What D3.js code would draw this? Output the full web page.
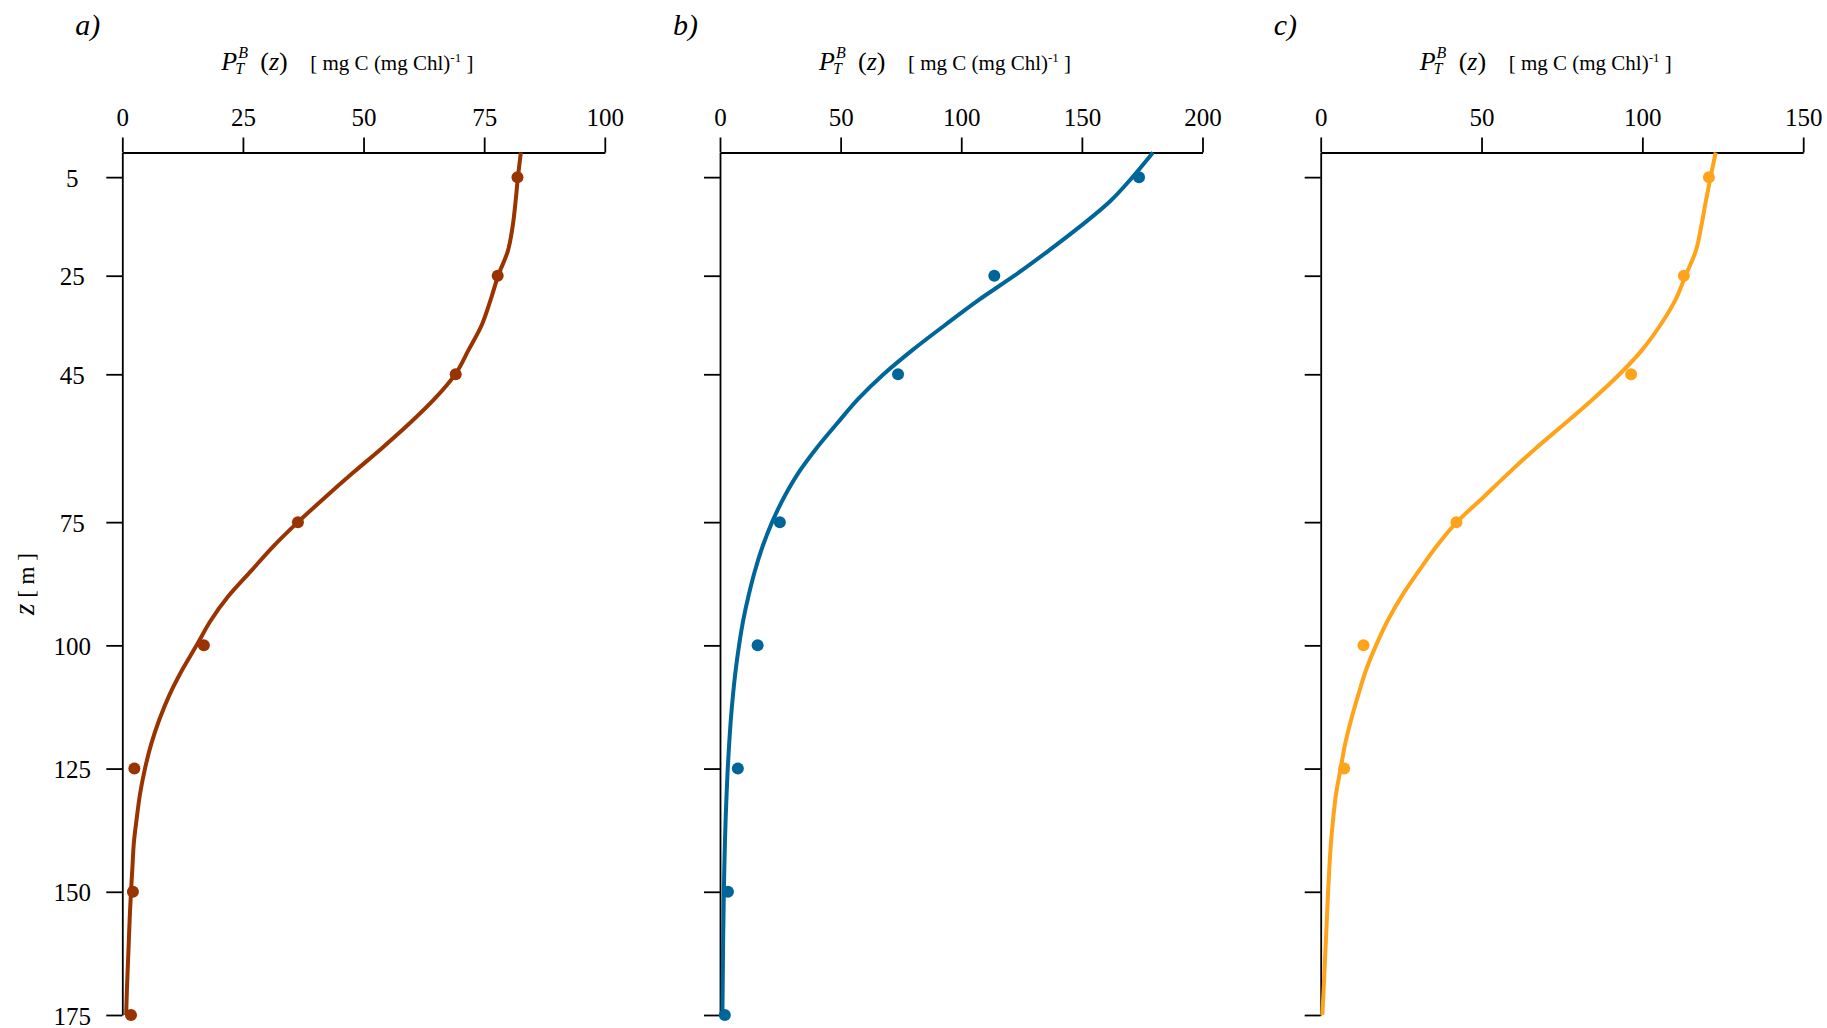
<!DOCTYPE html>
<html><head><meta charset="utf-8">
<script src="https://cdn.jsdelivr.net/npm/d3@7"></script>
<style>
body{margin:0;background:#fff}
svg text{font-family:"Liberation Serif","Times New Roman",serif !important;fill:#000}
</style>
</head><body>
<svg id="chart" width="1827" height="1028"></svg>
<script>
// ---------- data ----------
const panelLetters = ["a)", "b)", "c)"];
const depthTicks = [5, 25, 45, 75, 100, 125, 150, 175];
const xTicksA = [0, 25, 50, 75, 100];
const xTicksB = [0, 50, 100, 150, 200];
const xTicksC = [0, 50, 100, 150];
const xMaxA = 100, xMaxB = 200, xMaxC = 150;

const obsDepthsA = [5, 25, 45, 75, 100, 125, 150, 175];
const obsA = [81.9, 77.8, 69.1, 36.4, 16.9, 2.5, 2.2, 1.8];
const obsDepthsB = [5, 25, 45, 75, 100, 125, 150, 175];
const obsB = [173.7, 113.7, 73.8, 24.8, 15.6, 7.4, 3.3, 2.0];
const obsDepthsC = [5, 25, 45, 75, 100, 125];
const obsC = [120.7, 112.9, 96.5, 42.2, 13.3, 7.3];

const modelDepths = [0,5,10,15,20,25,30,35,40,45,50,55,60,65,70,75,80,85,90,95,100,105,110,115,120,125,130,135,140,145,150,155,160,165,170,175];
const modelA = [82.6,82.0,81.5,80.9,79.9,77.9,76.3,74.5,71.8,69.0,64.7,59.5,53.8,47.8,42.0,36.4,31.2,26.6,22.0,18.3,15.4,12.4,9.8,7.7,6.0,4.7,3.7,3.0,2.4,2.1,1.8,1.55,1.35,1.15,0.95,0.8];
const modelB = [179.5,171,161.5,149.3,136,122,107,93.3,80,67.8,57.3,48.5,40,32.5,26.5,21.6,17.6,14.4,11.8,9.6,7.9,6.5,5.4,4.5,3.8,3.2,2.75,2.35,2.05,1.8,1.6,1.45,1.3,1.2,1.1,1.0];
const modelC = [122.8,121.2,119.7,118.3,116.6,113.4,110.2,105.6,100,92.9,84.7,75.9,66.9,58.5,50.5,42.3,35.9,30.4,25.2,20.8,17.2,14.1,11.7,9.5,7.6,6.2,4.8,3.9,3.2,2.7,2.3,1.95,1.6,1.25,0.9,0.5];

const colors = ["#993300", "#006699", "#FFA31A"];

// ---------- layout ----------
const FONT = '"Liberation Serif","Times New Roman",serif';
const svg = d3.select("#chart");
const panelLeft = [122.3, 720, 1320.7];
const panelW = 482.5;
const yTop = 152.5, yBottom = 1015;

const y = d3.scaleLinear().domain([0, 175]).range([yTop, yBottom]);

const panels = [
  {ticks: xTicksA, max: xMaxA, od: obsDepthsA, ov: obsA, mv: modelA},
  {ticks: xTicksB, max: xMaxB, od: obsDepthsB, ov: obsB, mv: modelB},
  {ticks: xTicksC, max: xMaxC, od: obsDepthsC, ov: obsC, mv: modelC}
];

panels.forEach((p, i) => {
  const x0 = panelLeft[i];
  const x = d3.scaleLinear().domain([0, p.max]).range([x0, x0 + panelW]);
  const g = svg.append("g");

  // top axis
  const ax = g.append("g").attr("transform", `translate(0,${yTop})`)
    .call(d3.axisTop(x).tickValues(p.ticks).tickSize(15).tickSizeOuter(0).tickPadding(12).tickFormat(d3.format("d")));
  ax.attr("font-family", null).attr("font-size", null);
  ax.selectAll("path,line").attr("stroke", "#000").attr("stroke-width", 1.8);
  ax.selectAll("text").style("font-family", FONT).style("font-size", "25px").attr("fill", "#000");

  // left axis
  const ay = g.append("g").attr("transform", `translate(${x0},0)`)
    .call(d3.axisLeft(y).tickValues(depthTicks).tickSize(16).tickSizeOuter(0)
      .tickFormat(i === 0 ? d3.format("d") : () => ""));
  ay.attr("font-family", null).attr("font-size", null);
  ay.selectAll("path,line").attr("stroke", "#000").attr("stroke-width", 1.8);
  ay.selectAll("text").style("font-family", FONT).style("font-size", "25px").attr("fill", "#000")
    .attr("text-anchor", "middle").attr("x", -50).attr("dy", "0.36em");

  // model curve
  const line = d3.line()
    .x((d, k) => x(p.mv[k]))
    .y(d => y(d))
    .curve(d3.curveMonotoneY);
  g.append("path").datum(modelDepths)
    .attr("d", line)
    .attr("fill", "none")
    .attr("stroke", colors[i])
    .attr("stroke-width", 4)
    .attr("stroke-linejoin", "round");

  // observations
  g.selectAll("circle.obs").data(p.od).enter().append("circle")
    .attr("class", "obs")
    .attr("cx", (d, k) => x(p.ov[k]))
    .attr("cy", d => y(d))
    .attr("r", 6)
    .attr("fill", colors[i]);

  // panel letter
  g.append("text").attr("x", x0 - 47).attr("y", 35)
    .style("font-size", "30px").attr("font-style", "italic").text(panelLetters[i]);

  // axis title
  const tx = x0 + 99, ty = 70;
  const P = g.append("text").attr("x", tx).attr("y", ty)
    .style("font-size", "26px").attr("font-style", "italic").text("P");
  const wP = P.node().getComputedTextLength();
  g.append("text").attr("x", tx + wP + 1).attr("y", ty - 12)
    .style("font-size", "16px").attr("font-style", "italic").text("B");
  g.append("text").attr("x", tx + wP - 2).attr("y", ty + 4)
    .style("font-size", "16px").attr("font-style", "italic").text("T");
  const zt = g.append("text").attr("x", tx + 39).attr("y", ty).style("font-size", "26px");
  zt.append("tspan").text("(");
  zt.append("tspan").attr("font-style", "italic").text("z");
  zt.append("tspan").text(")");
  const u = g.append("text").attr("x", tx + 89).attr("y", ty).style("font-size", "21px");
  u.append("tspan").text("[ mg C (mg Chl)");
  u.append("tspan").style("font-size", "13px").attr("dy", -8).text("-1");
  u.append("tspan").attr("dy", 8).text("\u00a0]");
});

// y axis title
const yt = svg.append("text")
  .attr("transform", `translate(34,${584}) rotate(-90)`)
  .attr("text-anchor", "middle");
yt.append("tspan").style("font-size", "29px").attr("font-style", "italic").text("z");
yt.append("tspan").style("font-size", "23px").text(" [ m ]");
</script>
</body></html>
